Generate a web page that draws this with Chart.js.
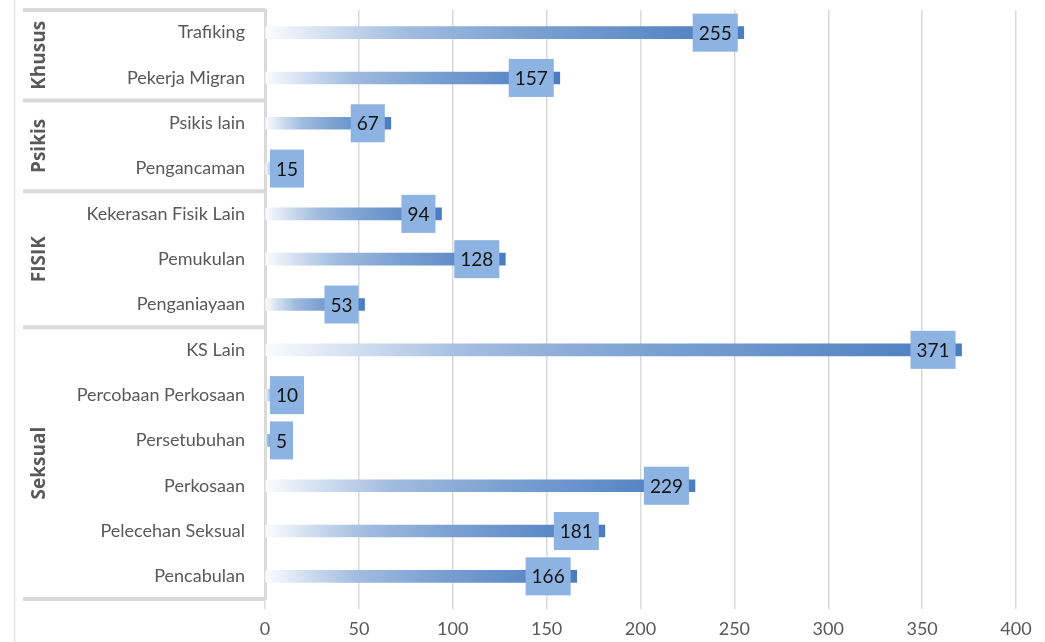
<!DOCTYPE html>
<html>
<head>
<meta charset="utf-8">
<script src="https://cdn.jsdelivr.net/npm/chart.js@4.4.0/dist/chart.umd.min.js"></script>
<style>
  html, body { margin: 0; padding: 0; background: #fff; }
  #wrap { width: 1045px; height: 642px; position: relative; }
</style>
</head>
<body>
<div id="wrap"><canvas id="chart"></canvas></div>
<script>
// Data (top to bottom)
const categories = [
  'Trafiking', 'Pekerja Migran',
  'Psikis lain', 'Pengancaman',
  'Kekerasan Fisik Lain', 'Pemukulan', 'Penganiayaan',
  'KS Lain', 'Percobaan Perkosaan', 'Persetubuhan', 'Perkosaan', 'Pelecehan Seksual', 'Pencabulan'
];
const values = [255, 157, 67, 15, 94, 128, 53, 371, 10, 5, 229, 181, 166];
const groupNames = ['Khusus', 'Psikis', 'FISIK', 'Seksual'];
const groupSizes = [2, 2, 3, 6];
const xMin = 0;
const xMax = 400;
const xStep = 50;

const FONT = 'Lato, "Open Sans", sans-serif';
const GREY = '#d9d9d9';
const TEXT = '#595959';

// bar fill: white -> blue along each bar
function barGradient(ctx) {
  const chart = ctx.chart;
  if (!chart.chartArea) return '#4f81bd';
  const x = chart.scales.x;
  const x0 = x.getPixelForValue(0);
  const x1 = x.getPixelForValue(values[ctx.dataIndex]);
  const g = chart.ctx.createLinearGradient(x0, 0, Math.max(x1, x0 + 1), 0);
  g.addColorStop(0, '#fbfcfe');
  g.addColorStop(0.15, '#cbdaee');
  g.addColorStop(0.3, '#a0bbdf');
  g.addColorStop(0.55, '#7ba1d1');
  g.addColorStop(1, '#4a7cc0');
  return g;
}

// left frame: thin line, group separators, rotated group names
const groupFrame = {
  id: 'groupFrame',
  afterDraw(chart) {
    const { ctx, chartArea } = chart;
    const y = chart.scales.y;
    ctx.save();
    ctx.strokeStyle = '#e3e3e3';
    ctx.lineWidth = 1.5;
    ctx.beginPath();
    ctx.moveTo(14.5, 0);
    ctx.lineTo(14.5, chart.height);
    ctx.stroke();

    const edges = [chartArea.top];
    let idx = 0;
    groupSizes.forEach(n => {
      idx += n;
      if (idx < categories.length) {
        edges.push((y.getPixelForValue(idx - 1) + y.getPixelForValue(idx)) / 2);
      } else {
        edges.push(chartArea.bottom);
      }
    });

    ctx.strokeStyle = GREY;
    ctx.lineWidth = 4;
    edges.forEach(e => {
      ctx.beginPath();
      ctx.moveTo(23, e);
      ctx.lineTo(chartArea.left, e);
      ctx.stroke();
    });

    ctx.fillStyle = TEXT;
    ctx.font = 'bold 19px "Open Sans", sans-serif';
    ctx.textAlign = 'center';
    ctx.textBaseline = 'middle';
    groupNames.forEach((name, i) => {
      const cy = (edges[i] + edges[i + 1]) / 2;
      ctx.save();
      ctx.translate(40, cy);
      ctx.rotate(-Math.PI / 2);
      ctx.fillText(name, 0, 0);
      ctx.restore();
    });
    ctx.restore();
  }
};

// value boxes at the end of each bar
const valueBoxes = {
  id: 'valueBoxes',
  afterDatasetsDraw(chart) {
    const { ctx, chartArea } = chart;
    const meta = chart.getDatasetMeta(0);
    ctx.save();
    ctx.font = '19px ' + FONT;
    ctx.textAlign = 'center';
    ctx.textBaseline = 'middle';
    meta.data.forEach((bar, i) => {
      const txt = String(values[i]);
      const w = ctx.measureText(txt).width + 12;
      const h = 38;
      let left = bar.x - 6 - w;
      if (left < chartArea.left + 5) left = chartArea.left + 5;
      ctx.fillStyle = '#8db3e2';
      ctx.fillRect(left, bar.y - h / 2, w, h);
      ctx.fillStyle = '#141414';
      ctx.fillText(txt, left + w / 2, bar.y + 1);
    });
    ctx.restore();
  }
};

new Chart(document.getElementById('chart'), {
  type: 'bar',
  data: {
    labels: categories,
    datasets: [{
      data: values,
      backgroundColor: barGradient,
      borderWidth: 0,
      barThickness: 12
    }]
  },
  options: {
    indexAxis: 'y',
    responsive: true,
    maintainAspectRatio: false,
    animation: false,
    layout: { padding: { top: 10, right: 29, left: 0, bottom: 0 } },
    plugins: {
      legend: { display: false },
      tooltip: { enabled: false }
    },
    scales: {
      x: {
        min: xMin,
        max: xMax,
        ticks: { stepSize: xStep, color: TEXT, font: { family: FONT, size: 18 }, padding: 9 },
        grid: { color: GREY, lineWidth: 1.5, tickLength: 10 },
        border: { display: false },
        afterFit(scale) { scale.height = 43; }
      },
      y: {
        ticks: { color: TEXT, font: { family: FONT, size: 18 }, padding: 20, autoSkip: false },
        grid: { display: false, drawTicks: false },
        border: { display: true, color: GREY, width: 3 },
        afterFit(scale) {
          scale.width = 265;
          scale.paddingTop = 0;
          scale.paddingBottom = 0;
        }
      }
    }
  },
  plugins: [groupFrame, valueBoxes]
});
</script>
</body>
</html>
